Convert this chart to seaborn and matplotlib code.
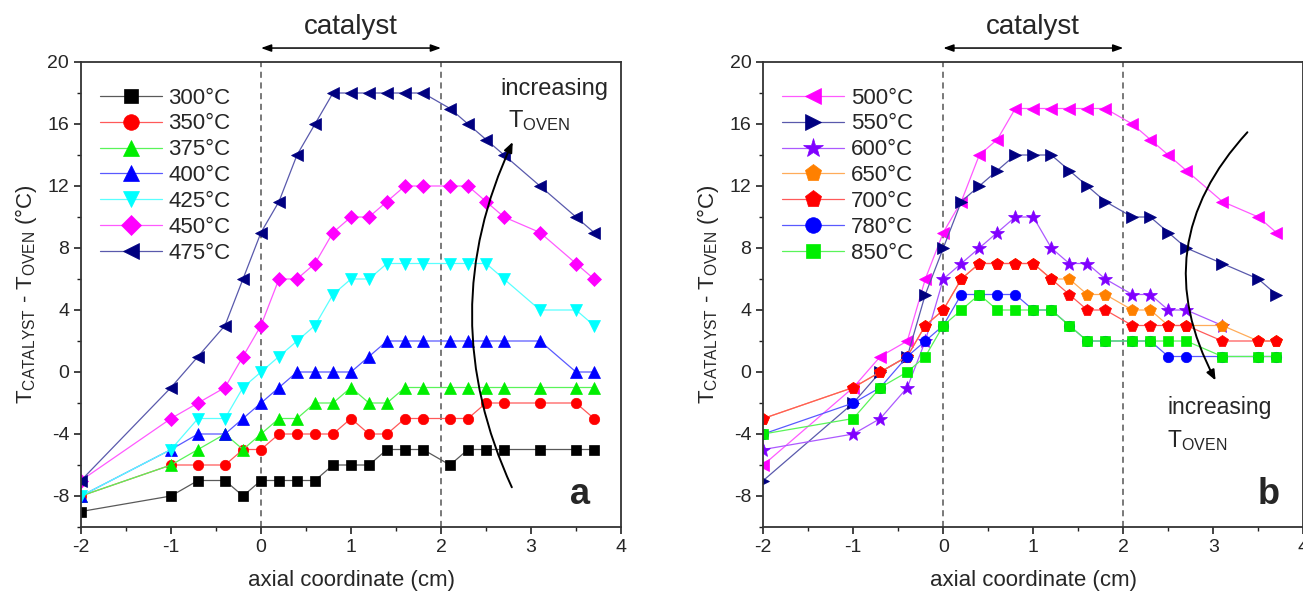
import numpy as np
import pandas as pd
import matplotlib
matplotlib.use("Agg")
import matplotlib.pyplot as plt
from matplotlib.patches import FancyArrowPatch
import matplotlib.colors as mcolors
import seaborn as sns

sns.set_theme(style="ticks")
plt.rcParams['font.family'] = ['Liberation Sans', 'DejaVu Sans']
plt.rcParams['mathtext.fontset'] = 'custom'
plt.rcParams['mathtext.rm'] = 'Liberation Sans'
plt.rcParams['mathtext.it'] = 'Liberation Sans:italic'
plt.rcParams['mathtext.bf'] = 'Liberation Sans:bold'
plt.rcParams['axes.unicode_minus'] = False

# ---------------- data ----------------
x_pos = [-2, -1, -0.7, -0.4, -0.2, 0, 0.2, 0.4, 0.6, 0.8, 1.0, 1.2, 1.4, 1.6, 1.8,
         2.1, 2.3, 2.5, 2.7, 3.1, 3.5, 3.7]

labels_a = ["300°C", "350°C", "375°C", "400°C", "425°C", "450°C", "475°C"]
t300 = [-9, -8, -7, -7, -8, -7, -7, -7, -7, -6, -6, -6, -5, -5, -5, -6, -5, -5, -5, -5, -5, -5]
t350 = [-8, -6, -6, -6, -5, -5, -4, -4, -4, -4, -3, -4, -4, -3, -3, -3, -3, -2, -2, -2, -2, -3]
t375 = [-8, -6, -5, -4, -5, -4, -3, -3, -2, -2, -1, -2, -2, -1, -1, -1, -1, -1, -1, -1, -1, -1]
t400 = [-8, -5, -4, -4, -3, -2, -1, 0, 0, 0, 0, 1, 2, 2, 2, 2, 2, 2, 2, 2, 0, 0]
t425 = [-8, -5, -3, -3, -1, 0, 1, 2, 3, 5, 6, 6, 7, 7, 7, 7, 7, 7, 6, 4, 4, 3]
t450 = [-7, -3, -2, -1, 1, 3, 6, 6, 7, 9, 10, 10, 11, 12, 12, 12, 12, 11, 10, 9, 7, 6]
t475 = [-7, -1, 1, 3, 6, 9, 11, 14, 16, 18, 18, 18, 18, 18, 18, 17, 16, 15, 14, 12, 10, 9]

labels_b = ["500°C", "550°C", "600°C", "650°C", "700°C", "780°C", "850°C"]
t500 = [-6, -1, 1, 2, 6, 9, 11, 14, 15, 17, 17, 17, 17, 17, 17, 16, 15, 14, 13, 11, 10, 9]
t550 = [-7, -2, 0, 1, 5, 8, 11, 12, 13, 14, 14, 14, 13, 12, 11, 10, 10, 9, 8, 7, 6, 5]
t600 = [-5, -4, -3, -1, 2, 6, 7, 8, 9, 10, 10, 8, 7, 7, 6, 5, 5, 4, 4, 3, np.nan, np.nan]
t650 = [-3, -1, 0, 1, 3, 4, 6, 7, 7, 7, 7, 6, 6, 5, 5, 4, 4, 3, 3, 3, 2, 2]
t700 = [-3, -1, 0, 1, 3, 4, 6, 7, 7, 7, 7, 6, 5, 4, 4, 3, 3, 3, 3, 2, 2, 2]
t780 = [-4, -2, -1, 1, 2, 3, 5, 5, 5, 5, 4, 4, 3, 2, 2, 2, 2, 1, 1, 1, 1, 1]
t850 = [-4, -3, -1, 0, 1, 3, 4, 5, 4, 4, 4, 4, 3, 2, 2, 2, 2, 2, 2, 1, 1, 1]

series_a = [t300, t350, t375, t400, t425, t450, t475]
series_b = [t500, t550, t600, t650, t700, t780, t850]

colors_a = ["#000000", "#FF0000", "#00EE00", "#0000FF", "#00FFFF", "#FF00FF", "#000080"]
markers_a = ["s", "o", "^", "^", "v", "D", "<"]
msize_a = [6.5, 7.5, 8, 8, 8, 7, 8]
colors_b = ["#FF00FF", "#000080", "#8000FF", "#FF8000", "#FF0000", "#0000FF", "#00EE00"]
markers_b = ["<", ">", "*", "p", "p", "o", "s"]
msize_b = [8, 8, 10, 8.5, 8.5, 7.5, 6.5]


def lighten(c, f=0.35):
    r, g, b = mcolors.to_rgb(c)
    return (r + (1 - r) * f, g + (1 - g) * f, b + (1 - b) * f)


W, H = 1303, 597
fig = plt.figure(figsize=(W / 100, H / 100), dpi=100)
ax_a = fig.add_axes([81 / W, 1 - 527 / H, 540 / W, 465 / H])
ax_b = fig.add_axes([763.3 / W, 1 - 527 / H, 540 / W, 465 / H])


def draw_panel(ax, series, labels, colors, markers, msizes):
    for y, lab, c, m, ms in zip(series, labels, colors, markers, msizes):
        df = pd.DataFrame({"x": x_pos, "y": y}).dropna()
        sns.lineplot(data=df, x="x", y="y", ax=ax, color=lighten(c), marker=m,
                     markersize=ms, markerfacecolor=c, markeredgecolor=c,
                     markeredgewidth=0.5, linewidth=0.9, label=lab,
                     estimator=None, sort=False)
    ax.set_xlim(-2, 4)
    ax.set_ylim(-10, 20)
    ax.set_xticks([-2, -1, 0, 1, 2, 3, 4])
    ax.set_xticks(np.arange(-1.5, 4, 1.0), minor=True)
    ax.set_yticks([-8, -4, 0, 4, 8, 12, 16, 20])
    ax.set_yticks(np.arange(-10, 20, 4.0), minor=True)
    ax.tick_params(axis="both", which="major", length=5, width=1.2, labelsize=14,
                   direction="out", color="#222222")
    ax.tick_params(axis="both", which="minor", length=3, width=1.0, direction="out",
                   color="#222222")
    for s in ax.spines.values():
        s.set_visible(True)
        s.set_linewidth(1.3)
        s.set_color("#333333")
    for xv in (0, 2):
        ax.axvline(xv, color="#555555", linestyle=(0, (4, 3)), linewidth=1.1, zorder=0)
    ax.set_xlabel("axial coordinate (cm)", fontsize=16, labelpad=10)
    ax.set_ylabel(r"T$_{\mathrm{CATALYST}}$ - T$_{\mathrm{OVEN}}$ (°C)", fontsize=16, labelpad=6)
    ax.legend(loc="upper left", frameon=False, fontsize=16, markerscale=1.5,
              handlelength=2.8, handletextpad=0.3, labelspacing=0.22,
              borderaxespad=0.75, bbox_to_anchor=(-0.013, 1.0))
    # catalyst arrow
    ax.annotate("", xy=(0, 1.03), xytext=(2, 1.03),
                xycoords=("data", "axes fraction"), textcoords=("data", "axes fraction"),
                arrowprops=dict(arrowstyle="<|-|>,head_length=0.5,head_width=0.18",
                                color="black", lw=1.1, shrinkA=0, shrinkB=0),
                annotation_clip=False)
    ax.text(1, 1.075, "catalyst", transform=ax.get_xaxis_transform(), ha="center",
            va="center", fontsize=20)


draw_panel(ax_a, series_a, labels_a, colors_a, markers_a, msize_a)
draw_panel(ax_b, series_b, labels_b, colors_b, markers_b, msize_b)

# curved arrows and annotations
arr_a = FancyArrowPatch((2.80, -7.6), (2.81, 15.0), connectionstyle="arc3,rad=-0.235",
                        arrowstyle="-|>,head_length=0.6,head_width=0.25",
                        mutation_scale=10, lw=1.4, color="black", zorder=5)
ax_a.add_patch(arr_a)
ax_a.text(2.66, 18.25, "increasing", fontsize=17, ha="left", va="center")
ax_a.text(2.74, 16.2, r"T$_{\mathrm{OVEN}}$", fontsize=17, ha="left", va="center")
ax_a.text(3.54, -7.9, "a", fontsize=26, fontweight="bold", ha="center", va="center")

arr_b = FancyArrowPatch((3.40, 15.6), (3.04, -0.7), connectionstyle="arc3,rad=0.36",
                        arrowstyle="-|>,head_length=0.6,head_width=0.25",
                        mutation_scale=10, lw=1.4, color="black", zorder=5)
ax_b.add_patch(arr_b)
ax_b.text(2.49, -2.3, "increasing", fontsize=16.5, ha="left", va="center")
ax_b.text(2.49, -4.4, r"T$_{\mathrm{OVEN}}$", fontsize=16.5, ha="left", va="center")
ax_b.text(3.62, -7.9, "b", fontsize=26, fontweight="bold", ha="center", va="center")

fig.savefig("out.png", dpi=100)
